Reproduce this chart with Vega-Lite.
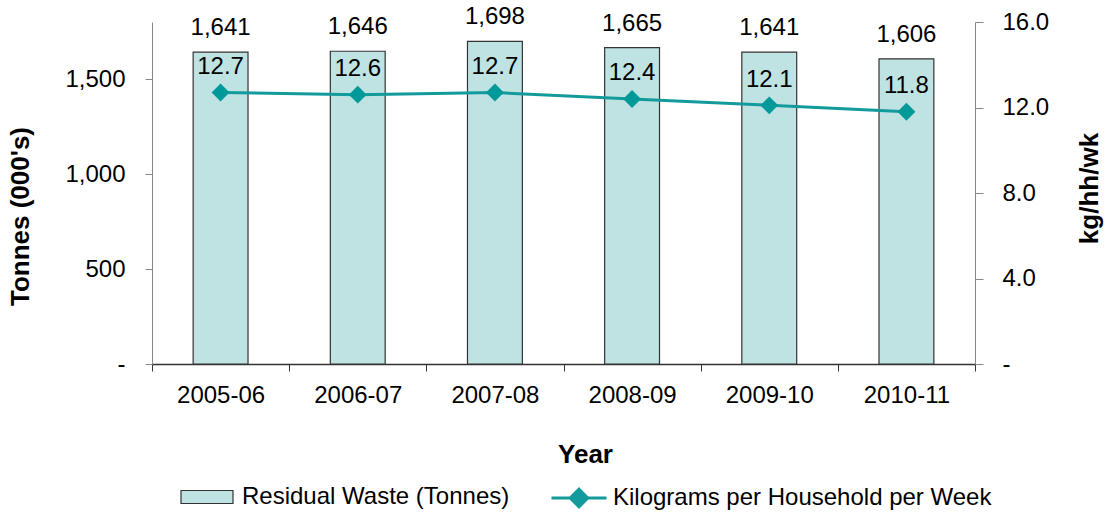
{
  "$schema": "https://vega.github.io/schema/vega-lite/v6.json",
  "width": 823,
  "height": 342,
  "autosize": "none",
  "padding": {"left": 152, "top": 22, "right": 135, "bottom": 152},
  "background": "white",
  "config": {
    "font": "Liberation Sans",
    "view": {"stroke": null},
    "axis": {"labelFont": "Liberation Sans", "titleFont": "Liberation Sans", "labelColor": "black", "titleColor": "black", "grid": false},
    "legend": {"labelFont": "Liberation Sans", "labelColor": "black", "labelLimit": 0}
  },
  "data": {
    "values": [
      {"year": "2005-06", "tonnes": 1641, "kg": 12.7},
      {"year": "2006-07", "tonnes": 1646, "kg": 12.6},
      {"year": "2007-08", "tonnes": 1698, "kg": 12.7},
      {"year": "2008-09", "tonnes": 1665, "kg": 12.4},
      {"year": "2009-10", "tonnes": 1641, "kg": 12.1},
      {"year": "2010-11", "tonnes": 1606, "kg": 11.8}
    ]
  },
  "encoding": {
    "x": {
      "field": "year", "type": "nominal", "sort": null,
      "scale": {"paddingInner": 0, "paddingOuter": 0},
      "axis": {
        "title": "Year", "titleFontSize": 26, "titleFontWeight": "bold",
        "titleX": 433, "titleY": 98, "titleBaseline": "alphabetic", "titleAlign": "center",
        "labelFontSize": 24, "labelAngle": 0, "labelPadding": 12,
        "tickSize": 7, "tickColor": "#333", "domainColor": "#333", "domainWidth": 1.5,
        "tickBand": "extent"
      }
    }
  },
  "layer": [
    {
      "layer": [
        {
          "mark": {"type": "bar", "width": {"band": 0.4}, "stroke": "#333", "strokeWidth": 1.2},
          "encoding": {
            "y": {
              "field": "tonnes", "type": "quantitative",
              "scale": {"domain": [0, 1800], "nice": false},
              "axis": {
                "values": [0, 500, 1000, 1500],
                "labelExpr": "datum.value == 0 ? '-' : format(datum.value, ',')",
                "title": "Tonnes (000's)", "titleFontSize": 26, "titleFontWeight": "bold",
                "titleX": -119, "titleY": 194, "titleAngle": -90, "titleBaseline": "bottom", "titleAlign": "center",
                "labelFontSize": 24, "labelPadding": 20, "tickSize": 7,
                "tickColor": "#888", "domainColor": "#888"
              }
            },
            "fill": {
              "datum": "Residual Waste (Tonnes)", "type": "nominal",
              "scale": {"range": ["#bfe3e3"]},
              "legend": {
                "orient": "none", "legendX": 28, "legendY": 448, "title": null,
                "symbolType": "M-1,-0.25H1V0.25H-1Z", "symbolSize": 2704,
                "symbolStrokeColor": "#333", "symbolStrokeWidth": 1.2,
                "labelFontSize": 24, "labelOffset": 8, "labelLimit": 0
              }
            }
          }
        },
        {
          "mark": {"type": "text", "dy": -17, "baseline": "alphabetic", "fontSize": 24, "font": "Liberation Sans", "color": "black"},
          "encoding": {
            "y": {"field": "tonnes", "type": "quantitative"},
            "text": {"field": "tonnes", "type": "quantitative", "format": ","}
          }
        }
      ]
    },
    {
      "layer": [
        {
          "mark": {"type": "line", "strokeWidth": 3},
          "encoding": {
            "y": {
              "field": "kg", "type": "quantitative",
              "scale": {"domain": [0, 16], "nice": false},
              "axis": {
                "orient": "right",
                "values": [0, 4, 8, 12, 16],
                "labelExpr": "datum.value == 0 ? '-' : format(datum.value, '.1f')",
                "title": "kg/hh/wk", "titleFontSize": 26, "titleFontWeight": "bold",
                "titleX": 127, "titleY": 166, "titleAngle": -90, "titleBaseline": "bottom", "titleAlign": "center",
                "labelFontSize": 24, "labelPadding": 19, "tickSize": 8,
                "tickColor": "#888", "domainColor": "#888"
              }
            },
            "stroke": {
              "datum": "Kilograms per Household per Week", "type": "nominal",
              "scale": {"range": ["#139a9c"]},
              "legend": {
                "orient": "none", "legendX": 398, "legendY": 447, "title": null,
                "symbolType": "M-1,0H1M0,-0.32L0.32,0L0,0.32L-0.32,0Z", "symbolSize": 3025,
                "symbolStrokeWidth": 3, "symbolFillColor": "#139a9c",
                "labelFontSize": 24, "labelOffset": 5, "labelLimit": 0,
                "encode": {"symbols": {"update": {"fill": {"value": "#139a9c"}}}}
              }
            }
          }
        },
        {
          "mark": {"type": "point", "shape": "diamond", "filled": true, "size": 320, "color": "#009999", "opacity": 1},
          "encoding": {"y": {"field": "kg", "type": "quantitative"}}
        },
        {
          "mark": {"type": "text", "dy": -18.5, "baseline": "alphabetic", "fontSize": 24, "font": "Liberation Sans", "color": "black"},
          "encoding": {
            "y": {"field": "kg", "type": "quantitative"},
            "text": {"field": "kg", "type": "quantitative", "format": ".1f"}
          }
        }
      ]
    }
  ],
  "resolve": {"scale": {"y": "independent"}}
}
